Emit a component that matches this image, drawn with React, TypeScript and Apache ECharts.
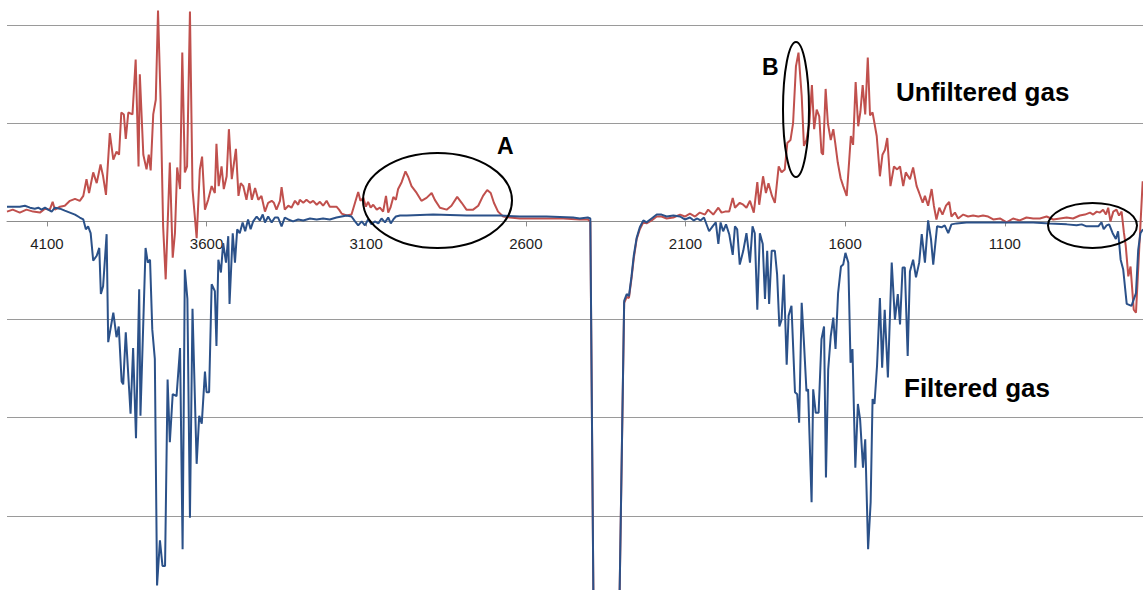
import React, { useEffect, useRef } from "react";
import * as echarts from "echarts";

// Wavenumber tick labels (cm-1), axis reversed
const tickLabels = [4100, 3600, 3100, 2600, 2100, 1600, 1100];

// Unfiltered gas (red)
const redWn = [
  4225, 4207, 4185, 4164, 4143, 4122, 4106, 4091, 4082, 4075,
  4059, 4044, 4028, 4012, 3997, 3986, 3976, 3968, 3955, 3944,
  3932, 3924, 3915, 3903, 3892, 3882, 3874, 3867, 3859, 3853,
  3845, 3832, 3822, 3813, 3809, 3798, 3788, 3781, 3775, 3767,
  3759, 3752, 3744, 3736, 3728, 3715, 3706, 3699, 3692, 3683,
  3676, 3668, 3661, 3652, 3644, 3631, 3621, 3614, 3605, 3595,
  3584, 3574, 3569, 3562, 3553, 3546, 3537, 3530, 3521, 3508,
  3500, 3493, 3485, 3475, 3466, 3458, 3448, 3438, 3428, 3417,
  3407, 3396, 3389, 3381, 3370, 3365, 3355, 3344, 3334, 3323,
  3313, 3308, 3297, 3287, 3276, 3266, 3255, 3245, 3235, 3224,
  3214, 3203, 3193, 3185, 3177, 3161, 3146, 3135, 3125, 3118,
  3109, 3101, 3094, 3086, 3078, 3067, 3057, 3047, 3038, 3031,
  3024, 3015, 3007, 3000, 2989, 2977, 2968, 2958, 2942, 2927,
  2911, 2895, 2885, 2869, 2848, 2833, 2815, 2801, 2786, 2765,
  2749, 2734, 2721, 2710, 2700, 2687, 2671, 2650, 2619, 2587,
  2535, 2483, 2431, 2406, 2398, 2387, 2309, 2292, 2284, 2277,
  2269, 2262, 2253, 2243, 2232, 2222, 2206, 2190, 2175, 2159,
  2138, 2117, 2102, 2086, 2070, 2055, 2039, 2029, 2013, 1997,
  1987, 1976, 1963, 1952, 1945, 1930, 1919, 1909, 1898, 1886,
  1875, 1869, 1857, 1848, 1840, 1829, 1820, 1808, 1799, 1789,
  1781, 1771, 1763, 1754, 1746, 1736, 1729, 1721, 1712, 1704,
  1697, 1689, 1681, 1674, 1669, 1661, 1654, 1645, 1637, 1631,
  1623, 1614, 1606, 1595, 1587, 1582, 1575, 1567, 1559, 1552,
  1545, 1537, 1529, 1522, 1514, 1501, 1491, 1483, 1475, 1468,
  1458, 1447, 1437, 1428, 1418, 1410, 1397, 1387, 1376, 1368,
  1357, 1350, 1340, 1329, 1322, 1314, 1305, 1295, 1284, 1274,
  1267, 1256, 1246, 1230, 1215, 1199, 1183, 1168, 1152, 1136,
  1115, 1094, 1074, 1053, 1032, 1011, 990, 969, 948, 927,
  906, 886, 865, 849, 833, 823, 812, 802, 792, 783,
  776, 769, 760, 750, 742, 734, 727, 721, 713, 706,
  696, 689, 679, 668,
];
const redVal = [
  10, 12, 9, 12, 10, 9, 13, 12, 20, 12,
  15, 16, 21, 23, 21, 26, 43, 29, 50, 39,
  58, 46, 27, 90, 63, 71, 68, 111, 109, 84,
  111, 109, 165, 56, 150, 68, 53, 68, 52, 109,
  124, 215, 124, -5, -59, 60, -37, -12, 55, 33,
  172, 50, 56, 214, 33, -17, 53, 66, 12, 22,
  36, 29, 79, 36, 56, 33, 46, 94, 43, 74,
  26, 39, 36, 22, 39, 22, 34, 22, 26, 10,
  19, 21, 19, 12, 21, 35, 12, 16, 14, 21,
  17, 22, 19, 22, 19, 21, 17, 20, 16, 21,
  15, 15, 15, 12, 8, 6, 7, 19, 30, 21,
  24, 15, 20, 14, 17, 12, 14, 10, 26, 9,
  14, 25, 22, 33, 40, 51, 45, 36, 29, 21,
  24, 29, 22, 14, 12, 16, 25, 19, 12, 12,
  16, 26, 32, 29, 19, 10, 5, 4, 3, 3,
  3, 3, 2, 2, 0, -436, -436, -83, -77, -78,
  -58, -38, -18, -8, -1, -2, 1, 5, 5, 3,
  4, 7, 5, 8, 5, 9, 7, 12, 7, 14,
  9, 10, 10, 24, 14, 19, 17, 14, 21, 9,
  40, 17, 46, 29, 39, 26, 19, 56, 50, 53,
  80, 83, 100, 158, 172, 128, 77, 83, 100, 139,
  94, 114, 107, 70, 68, 135, 100, 83, 94, 80,
  60, 44, 36, 26, 63, 87, 78, 142, 97, 112,
  139, 109, 167, 108, 111, 87, 46, 68, 73, 85,
  36, 56, 53, 56, 36, 50, 43, 55, 36, 29,
  19, 26, 16, 33, 16, 2, 14, 7, 16, 20,
  5, 9, 3, 7, 5, 6, 5, 6, 5, 2,
  3, -1, 3, 1, 4, 3, 3, 5, 2, 3,
  4, 3, 6, 7, 9, 7, 10, 9, 12, 7,
  14, 0, 10, 12, 6, 10, -11, -25, -56, -46,
  -90, -93, -29, 41,
];

// Filtered gas (blue)
const blueWn = [
  4225, 4206, 4185, 4169, 4153, 4138, 4127, 4117, 4106, 4096,
  4085, 4075, 4059, 4044, 4028, 4012, 3997, 3986, 3978, 3971,
  3963, 3955, 3944, 3936, 3931, 3924, 3913, 3908, 3892, 3882,
  3875, 3866, 3861, 3853, 3838, 3830, 3821, 3811, 3807, 3791,
  3784, 3777, 3770, 3762, 3755, 3746, 3738, 3730, 3722, 3715,
  3706, 3694, 3683, 3675, 3668, 3660, 3652, 3644, 3631, 3623,
  3615, 3605, 3600, 3592, 3584, 3574, 3569, 3563, 3555, 3548,
  3539, 3532, 3528, 3518, 3511, 3504, 3496, 3487, 3479, 3470,
  3462, 3454, 3443, 3433, 3424, 3417, 3407, 3396, 3386, 3376,
  3365, 3355, 3344, 3329, 3313, 3297, 3276, 3255, 3235, 3214,
  3193, 3177, 3161, 3146, 3135, 3125, 3114, 3104, 3094, 3083,
  3073, 3062, 3052, 3041, 3031, 3023, 3015, 3007, 2994, 2973,
  2890, 2786, 2681, 2619, 2535, 2452, 2431, 2406, 2398, 2387,
  2309, 2292, 2284, 2277, 2269, 2262, 2253, 2243, 2232, 2222,
  2206, 2190, 2175, 2159, 2138, 2117, 2102, 2086, 2074, 2063,
  2053, 2042, 2026, 2015, 2005, 1997, 1990, 1982, 1973, 1963,
  1952, 1945, 1938, 1930, 1919, 1909, 1898, 1890, 1883, 1875,
  1867, 1858, 1851, 1844, 1838, 1830, 1820, 1813, 1806, 1799,
  1792, 1783, 1777, 1768, 1757, 1750, 1744, 1736, 1729, 1721,
  1716, 1705, 1700, 1692, 1683, 1674, 1666, 1660, 1653, 1645,
  1637, 1630, 1622, 1613, 1606, 1599, 1590, 1583, 1577, 1568,
  1560, 1553, 1544, 1537, 1528, 1520, 1514, 1508, 1500, 1491,
  1484, 1476, 1466, 1454, 1444, 1435, 1428, 1420, 1413, 1404,
  1397, 1387, 1378, 1368, 1360, 1350, 1340, 1331, 1324, 1312,
  1298, 1288, 1277, 1267, 1251, 1220, 1168, 1115, 1063, 1011,
  959, 906, 875, 859, 844, 823, 807, 797, 790, 781,
  773, 762, 752, 745, 737, 729, 718, 703, 689, 682,
  675, 667,
];
const blueVal = [
  15, 15, 15, 16, 14, 13, 14, 12, 14, 12,
  10, 14, 13, 11, 9, 7, 4, 2, -8, -5,
  -12, -40, -35, -27, -74, -66, -13, -123, -93, -118,
  -107, -163, -166, -113, -196, -129, -221, -69, -198, -27,
  -42, -39, -110, -140, -371, -325, -351, -351, -161, -225,
  -176, -178, -129, -334, -49, -79, -302, -89, -247, -198,
  -206, -153, -174, -174, -64, -71, -127, -39, -52, -22,
  -42, -15, -84, -12, -42, -8, -12, -1, -10, 2,
  -8, 0, 5, 1, 7, -1, 5, -1, 4, 4,
  -5, 4, 2, 0, 2, 1, 3, 2, 3, 2,
  4, 5, 6, 5, 0, -4, 0, -4, 2, -3,
  0, -2, 3, -1, 4, -2, 2, 5, 6, 6,
  7, 6, 6, 5, 5, 4, 3, 4, 3, -436,
  -436, -81, -74, -76, -56, -35, -17, -6, 1, -1,
  3, 7, 7, 5, 6, 5, 2, 4, 1, 3,
  1, 4, -10, -5, -1, -23, -1, -10, -3, -13,
  -34, -5, -8, -44, -30, -12, -42, -5, -12, -90,
  -12, -23, -79, -30, -84, -30, -30, -54, -107, -100,
  -54, -146, -96, -86, -174, -176, -205, -83, -123, -173,
  -171, -286, -171, -195, -195, -120, -107, -261, -151, -117,
  -98, -130, -73, -46, -44, -32, -42, -144, -130, -251,
  -186, -202, -251, -222, -334, -286, -181, -186, -147, -78,
  -149, -90, -159, -42, -100, -74, -105, -47, -47, -137,
  -51, -39, -57, -42, -13, -42, 1, -18, -44, -5,
  -6, -4, -12, -3, -2, -1, -1, -1, -1, -1,
  -2, -3, -4, -3, -5, -5, -5, -1, -8, -4,
  -3, -12, -18, -10, -39, -49, -84, -86, -73, -29,
  -12, -8,
];

const FONT = '"Liberation Sans", Arial, sans-serif';

export default function App() {
  const ref = useRef<HTMLDivElement>(null);
  useEffect(() => {
    document.body.style.margin = "0";
    const chart = echarts.init(ref.current!, null, { renderer: "svg" });
    chart.setOption({
      animation: false,
      backgroundColor: "#ffffff",
      grid: {
        left: 7,
        right: 0,
        top: -73,
        height: 687,
        containLabel: false,
        outerBoundsMode: "none",
      },
      xAxis: {
        type: "value",
        inverse: true,
        min: 667,
        max: 4225,
        axisLine: { show: true, onZero: true, lineStyle: { color: "#8c8c8c", width: 1 } },
        axisTick: {
          show: true,
          length: 5,
          customValues: tickLabels,
          lineStyle: { color: "#8c8c8c" },
        },
        axisLabel: {
          customValues: tickLabels,
          formatter: (v: number) => String(v),
          margin: -378,
          fontFamily: FONT,
          fontSize: 15,
          color: "#1e1e1e",
        },
        splitLine: { show: false },
      },
      yAxis: {
        type: "value",
        min: -400,
        max: 300,
        interval: 100,
        axisLabel: { show: false },
        axisLine: { show: false },
        axisTick: { show: false },
        splitLine: { lineStyle: { color: "#9a9a9a", width: 1 } },
      },
      series: [
        {
          name: "Unfiltered gas",
          type: "line",
          symbol: "none",
          data: redWn.map((w, i) => [w, redVal[i]]),
          lineStyle: { color: "#C0504D", width: 2 },
          itemStyle: { color: "#C0504D" },
        },
        {
          name: "Filtered gas",
          type: "line",
          symbol: "none",
          data: blueWn.map((w, i) => [w, blueVal[i]]),
          lineStyle: { color: "#2B5189", width: 2 },
          itemStyle: { color: "#2B5189" },
        },
      ],
      graphic: [
        {
          type: "ellipse",
          shape: { cx: 437.5, cy: 200.5, rx: 74.5, ry: 47.5 },
          style: { fill: "none", stroke: "#000", lineWidth: 2 },
          z: 100,
        },
        {
          type: "ellipse",
          shape: { cx: 796, cy: 109.5, rx: 13, ry: 67.5 },
          style: { fill: "none", stroke: "#000", lineWidth: 2 },
          z: 100,
        },
        {
          type: "ellipse",
          shape: { cx: 1092.5, cy: 225.5, rx: 44.5, ry: 22.5 },
          style: { fill: "none", stroke: "#000", lineWidth: 2 },
          z: 100,
        },
        {
          type: "text",
          x: 497,
          y: 146,
          z: 100,
          style: { text: "A", font: `bold 23px ${FONT}`, fill: "#000", textAlign: "left", textVerticalAlign: "middle" },
        },
        {
          type: "text",
          x: 762,
          y: 67,
          z: 100,
          style: { text: "B", font: `bold 23px ${FONT}`, fill: "#000", textAlign: "left", textVerticalAlign: "middle" },
        },
        {
          type: "text",
          x: 896,
          y: 92,
          z: 100,
          style: { text: "Unfiltered gas", font: `bold 26px ${FONT}`, fill: "#000", textAlign: "left", textVerticalAlign: "middle" },
        },
        {
          type: "text",
          x: 904,
          y: 388,
          z: 100,
          style: { text: "Filtered gas", font: `bold 26px ${FONT}`, fill: "#000", textAlign: "left", textVerticalAlign: "middle" },
        },
      ],
    });
    return () => chart.dispose();
  }, []);
  return <div ref={ref} style={{ width: 1143, height: 590 }} />;
}
